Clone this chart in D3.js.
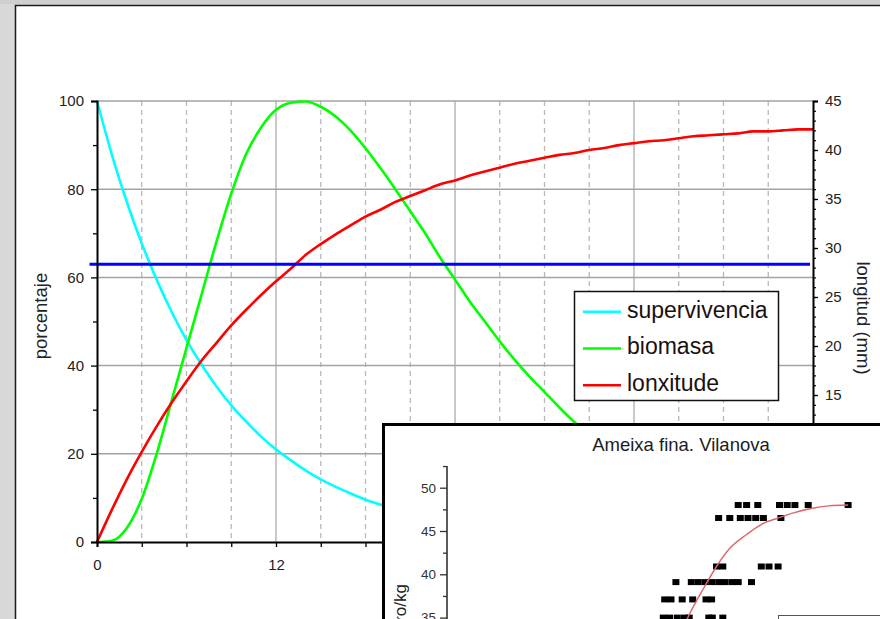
<!DOCTYPE html>
<html>
<head>
<meta charset="utf-8">
<script src="https://cdn.jsdelivr.net/npm/d3@7"></script>
<style>
  html, body { margin: 0; padding: 0; background: #d9d9d9; }
  svg { display: block; font-family: "Liberation Sans", Arial, sans-serif; }
</style>
</head>
<body>
<svg id="chart" width="880" height="619"></svg>
<script>
// ---------------- DATA (main chart) ----------------
const weeks = [0,1,2,3,4,5,6,7,8,9,10,11,12,13,14,15,16,17,18,19,20,21,22,23,24,25,26,27,28,29,30,31,32,33,34,35,36,37,38,39,40,41,42,43,44,45,46,47,48];
// supervivencia (%), left axis
const supervivencia = [100,87.8,77.1,67.7,59.5,52.2,45.8,40.3,35.3,31.0,27.3,23.9,21.0,18.5,16.2,14.2,12.5,11.0,9.6,8.5,7.4,6.5,5.7,5.0,4.4,3.9,3.4,3.0,2.6,2.3,2.0,1.8,1.6,1.4,1.2,1.1,0.9,0.8,0.7,0.6,0.6,0.5,0.4,0.4,0.3,0.3,0.3,0.2,0.2];
// biomasa (%), left axis
const biomasa = [0,0.3,3.2,9.8,20,32,44,56,68,79,88,94,98,99.6,99.9,98.7,96.5,93.3,89.3,84.8,80,75,70,64.5,59.5,54.5,50,45.5,41.3,37.5,34,30.5,27.2,24.2,21.5,18.8,16.5,14.6,12.8,11.3,10,8.8,7.8,6.8,6,5.4,4.8,4.3,3.8];
// lonxitude (mm), right axis
const lonxitude = [0,3.3,6.4,9.2,11.8,14.2,16.4,18.5,20.3,22.1,23.7,25.2,26.6,27.9,29.3,30.4,31.4,32.3,33.2,33.9,34.7,35.3,35.9,36.5,36.9,37.4,37.8,38.2,38.6,38.9,39.2,39.5,39.7,40.0,40.2,40.5,40.7,40.9,41.0,41.2,41.4,41.5,41.6,41.7,41.9,41.9,42.0,42.1,42.1];
// horizontal reference line (%)
const refLevel = 63;
const refExtent = [-0.5, 47.8];

const xTickValues = [0,3,6,9,12,15,18,21,24,27,30,33,36,39,42,45,48];
const xTickLabels = [0,12,24,36,48];
const xMajorGrid = [12,24,36];
const leftTicks = [0,20,40,60,80,100];
const leftMinor = [10,30,50,70,90];
const rightTicks = [0,5,10,15,20,25,30,35,40,45];
const seriesNames = ["supervivencia","biomasa","lonxitude"];
const seriesColors = ["#00ffff","#00ff00","#ff0000"];

// ---------------- DATA (inset) ----------------
const insetTitle = "Ameixa fina. Vilanova";
const insetYLabel = "Número/kg";
const insetYTicks = [35,40,45,50];
const insetYMinor = [32.5,37.5,42.5,47.5,52.5];
const scatterX = [41.6,42.8,44.4,47.5,48.6,49.7,51.6,57.3,
                  38.8,40.4,41.9,43.0,44.1,45.2,47.7,
                  38.5,39.4,44.9,46.0,47.3,
                  32.7,34.9,35.9,36.9,37.9,38.9,39.7,40.7,41.6,43.5,
                  31.1,32.0,33.6,35.1,37.0,37.8,
                  30.9,31.8,32.9,33.9,34.6,37.4,37.9,39.4];
const scatterY = [48,48,48,48,48,48,48,48,
                  46.5,46.5,46.5,46.5,46.5,46.5,46.5,
                  40.9,40.9,40.9,40.9,40.9,
                  39.1,39.1,39.1,39.1,39.1,39.1,39.1,39.1,39.1,39.1,
                  37.1,37.1,37.1,37.1,37.1,37.1,
                  35,35,35,35,35,35,35,35];
const fitX = [32.5,34.4,36.6,38.5,40.4,42.8,45.0,47.3,49.5,52.0,54.5,57.3];
const fitY = [31.5,35.0,38.3,40.9,43.0,44.6,45.8,46.5,47.1,47.6,47.9,48.0];

// ---------------- DRAWING ----------------
const svg = d3.select("#chart");
const W = 880, H = 619;

// background + panel
svg.append("rect").attr("width", W).attr("height", H).attr("fill", "#d8d8d8");
svg.append("rect").attr("x", 0).attr("y", 0).attr("width", W).attr("height", 4).attr("fill", "#cfcfcf");
svg.append("rect").attr("x", 15.5).attr("y", 5.5).attr("width", 900).attr("height", 700)
   .attr("fill", "#ffffff").attr("stroke", "#1a1a1a").attr("stroke-width", 1.5);

const x = d3.scaleLinear().domain([0, 48]).range([97, 813]);
const yL = d3.scaleLinear().domain([0, 100]).range([542, 101]);
const yR = d3.scaleLinear().domain([0, 45]).range([542, 101]);

const g = svg.append("g");

// vertical dashed gridlines
g.selectAll(".vdash").data(xTickValues.filter(v => v > 0 && v < 48 && !xMajorGrid.includes(v)))
  .join("line")
  .attr("x1", d => x(d)).attr("x2", d => x(d))
  .attr("y1", yL(100)).attr("y2", yL(0))
  .attr("stroke", "#b9b9b9").attr("stroke-width", 1.3).attr("stroke-dasharray", "5,4");
// vertical solid gridlines
g.selectAll(".vsolid").data(xMajorGrid).join("line")
  .attr("x1", d => x(d)).attr("x2", d => x(d))
  .attr("y1", yL(100)).attr("y2", yL(0))
  .attr("stroke", "#c8c8c8").attr("stroke-width", 2);
// horizontal gridlines
g.selectAll(".hgrid").data(leftTicks.filter(v => v > 0)).join("line")
  .attr("x1", x(0)).attr("x2", x(48))
  .attr("y1", d => yL(d)).attr("y2", d => yL(d))
  .attr("stroke", "#a3a3a3").attr("stroke-width", 1.5);

// curves
const curveL = d3.line().x(d => x(d[0])).y(d => yL(d[1])).curve(d3.curveMonotoneX);
const curveR = d3.line().x(d => x(d[0])).y(d => yR(d[1])).curve(d3.curveMonotoneX);
g.append("path").datum(weeks.map((t, i) => [t, supervivencia[i]]))
  .attr("d", curveL).attr("fill", "none").attr("stroke", seriesColors[0]).attr("stroke-width", 2.6);
g.append("path").datum(weeks.map((t, i) => [t, biomasa[i]]))
  .attr("d", curveL).attr("fill", "none").attr("stroke", seriesColors[1]).attr("stroke-width", 2.6);
g.append("path").datum(weeks.map((t, i) => [t, lonxitude[i]]))
  .attr("d", curveR).attr("fill", "none").attr("stroke", seriesColors[2]).attr("stroke-width", 2.6);

// blue reference line
g.append("line")
  .attr("x1", x(refExtent[0])).attr("x2", x(refExtent[1]))
  .attr("y1", yL(refLevel)).attr("y2", yL(refLevel))
  .attr("stroke", "#0000ff").attr("stroke-width", 3);

// axes
const labelFill = "#222";
const leftAxis = g.append("g").attr("transform", `translate(${x(0)},0)`)
  .call(d3.axisLeft(yL).tickValues(leftTicks).tickSize(6).tickPadding(7));
leftAxis.selectAll(".tick text").style("font-size", "15px").attr("fill", labelFill);
leftAxis.select(".domain").attr("stroke", "#000").attr("stroke-width", 2);
leftAxis.selectAll(".tick line").attr("stroke", "#000").attr("stroke-width", 1.3);
g.append("g").attr("transform", `translate(${x(0)},0)`)
  .call(d3.axisLeft(yL).tickValues(leftMinor).tickSize(4).tickFormat(""))
  .call(s => s.select(".domain").remove())
  .selectAll(".tick line").attr("stroke", "#000").attr("stroke-width", 1.3);

const rightAxis = g.append("g").attr("transform", `translate(${x(48)},0)`)
  .call(d3.axisRight(yR).tickValues(rightTicks).tickSize(5).tickPadding(7));
rightAxis.selectAll(".tick text").style("font-size", "15px").attr("fill", labelFill);
rightAxis.select(".domain").attr("stroke", "#000").attr("stroke-width", 2);
rightAxis.selectAll(".tick line").attr("stroke", "#000").attr("stroke-width", 1.3);
g.append("g").attr("transform", `translate(${x(48)},0)`)
  .call(d3.axisRight(yR).ticks(45).tickSize(3).tickFormat(""))
  .call(s => s.select(".domain").remove())
  .selectAll(".tick line").attr("stroke", "#000").attr("stroke-width", 1.2);

const bottomAxis = g.append("g").attr("transform", `translate(0,${yL(0)})`)
  .call(d3.axisBottom(x).tickValues(xTickValues).tickSize(5).tickPadding(12)
        .tickFormat(d => xTickLabels.includes(d) ? d : ""));
bottomAxis.selectAll(".tick text").style("font-size", "15px").attr("fill", labelFill);
bottomAxis.select(".domain").attr("stroke", "#000").attr("stroke-width", 2);
bottomAxis.selectAll(".tick line").attr("stroke", "#000").attr("stroke-width", 1.3);

// axis titles
g.append("text").attr("transform", "translate(47,316) rotate(-90)")
  .attr("text-anchor", "middle").style("font-size", "18.5px").attr("fill", labelFill)
  .text("porcentaje");
g.append("text").attr("transform", "translate(856.5,318) rotate(90)")
  .attr("text-anchor", "middle").style("font-size", "18.5px").attr("fill", labelFill)
  .text("longitud (mm)");

// legend
const lg = g.append("g");
lg.append("rect").attr("x", 574.5).attr("y", 291.5).attr("width", 204).attr("height", 109)
  .attr("fill", "#fff").attr("stroke", "#111").attr("stroke-width", 1.5);
seriesNames.forEach((name, i) => {
  const yy = 311.7 + i * 36.8;
  lg.append("line").attr("x1", 583).attr("x2", 621).attr("y1", yy).attr("y2", yy)
    .attr("stroke", seriesColors[i]).attr("stroke-width", 2.6);
  lg.append("text").attr("x", 627).attr("y", yy + 5.8)
    .style("font-size", "23px").attr("fill", "#1a1010").text(name);
});

// ---------------- INSET ----------------
const ins = svg.append("g");
ins.append("rect").attr("x", 383.5).attr("y", 424.5).attr("width", 540).attr("height", 260)
  .attr("fill", "#fff").attr("stroke", "#000").attr("stroke-width", 3);
ins.append("text").attr("x", 681).attr("y", 450.5).attr("text-anchor", "middle")
  .style("font-size", "18.5px").attr("fill", "#1c1c1c").text(insetTitle);

const ix = d3.scaleLinear().domain([0, 62]).range([447, 881]);
const iy = d3.scaleLinear().domain([30, 52.5]).range([660.9, 466.05]);

const iAxis = ins.append("g").attr("transform", "translate(447,0)")
  .call(d3.axisLeft(iy).tickValues(insetYTicks).tickSize(7).tickPadding(4));
iAxis.select(".domain").remove();
iAxis.selectAll(".tick text").style("font-size", "13.5px").attr("fill", "#333");
iAxis.selectAll(".tick line").attr("stroke", "#333").attr("stroke-width", 1.3);
ins.append("g").attr("transform", "translate(447,0)")
  .call(d3.axisLeft(iy).tickValues(insetYMinor).tickSize(4).tickFormat(""))
  .call(s => s.select(".domain").remove())
  .selectAll(".tick line").attr("stroke", "#333").attr("stroke-width", 1.3);
ins.append("line").attr("x1", 447).attr("x2", 447).attr("y1", iy(52.5)).attr("y2", 640)
  .attr("stroke", "#333").attr("stroke-width", 1.6);

ins.append("text").attr("transform", "translate(405.5,584) rotate(-90)")
  .attr("text-anchor", "end").style("font-size", "17px").attr("fill", "#222").text(insetYLabel);

// scatter squares
ins.selectAll(".pt").data(scatterX.map((v, i) => [v, scatterY[i]])).join("rect")
  .attr("x", d => ix(d[0]) - 3.5).attr("y", d => iy(d[1]) - 3)
  .attr("width", 7).attr("height", 6).attr("fill", "#000");

// fitted curve
ins.append("path").datum(fitX.map((v, i) => [v, fitY[i]]))
  .attr("d", d3.line().x(d => ix(d[0])).y(d => iy(d[1])).curve(d3.curveMonotoneX))
  .attr("fill", "none").attr("stroke", "#dd6666").attr("stroke-width", 1.4);

// inset legend box (cut off)
ins.append("rect").attr("x", 778.5).attr("y", 615.5).attr("width", 120).attr("height", 30)
  .attr("fill", "#fff").attr("stroke", "#555").attr("stroke-width", 1);
</script>
</body>
</html>
